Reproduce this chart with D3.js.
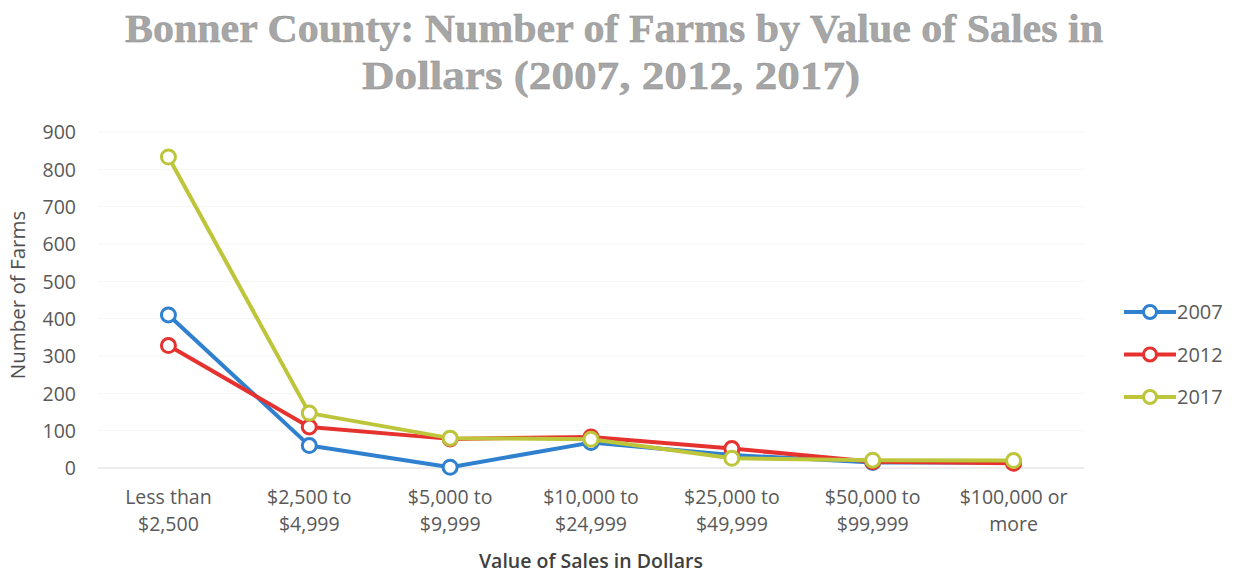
<!DOCTYPE html>
<html><head><meta charset="utf-8">
<script src="https://cdn.jsdelivr.net/npm/d3@7"></script>
<style>
body{margin:0;background:#fff;}
svg{display:block;}
text{font-family:"Open Sans",sans-serif;}
</style></head>
<body><svg id="c" width="1236" height="573"></svg>
<script>
const categories = [["Less than","$2,500"],["$2,500 to","$4,999"],["$5,000 to","$9,999"],["$10,000 to","$24,999"],["$25,000 to","$49,999"],["$50,000 to","$99,999"],["$100,000 or","more"]];
const years = ["2007","2012","2017"];
const values2007 = [410, 60, 2, 68, 35, 15, 15];
const values2012 = [328, 110, 78, 83, 52, 17, 13];
const values2017 = [833, 147, 80, 77, 26, 21, 20];
const yTicks = [0,100,200,300,400,500,600,700,800,900];
const colors = ["#2f80cf","#e6322f","#bdc53b"];

(function(){
const series = [values2007, values2012, values2017].map((v,i)=>({name:years[i], values:v, color:colors[i]}));
const svg = d3.select("#c");
const pL = 98, pR = 1084, pT = 132, pB = 468;

const x = d3.scaleBand().domain(d3.range(categories.length)).range([pL,pR]);
const y = d3.scaleLinear().domain([0,900]).range([pB,pT]);

// gridlines
svg.append("g").selectAll("line").data(yTicks).join("line")
  .attr("x1",pL).attr("x2",pR)
  .attr("y1",d=>y(d)).attr("y2",d=>y(d))
  .attr("stroke",d=>d===0?"#d9d9d9":"#f5f5f5").attr("stroke-width",1);

// y axis
const yAxis = d3.axisLeft(y).tickValues(yTicks).tickSize(0).tickPadding(0);
const yg = svg.append("g").attr("transform",`translate(76,0)`).call(yAxis);
yg.select(".domain").remove();
yg.selectAll("text").attr("fill","#595959").style("font-size","19.5px").style("font-family","'Open Sans',sans-serif").attr("dy","0.35em");

// x axis labels
const xg = svg.append("g");
categories.forEach((c,i)=>{
  const cx = x(i)+x.bandwidth()/2;
  const t = xg.append("text").attr("x",cx).attr("y",504)
    .attr("text-anchor","middle").attr("fill","#595959").style("font-size","19.5px");
  t.append("tspan").attr("x",cx).attr("dy",0).text(c[0]);
  t.append("tspan").attr("x",cx).attr("dy",27).text(c[1]);
});

// axis titles
svg.append("text").attr("x",591).attr("y",568).attr("text-anchor","middle")
  .attr("fill","#404040").style("font-size","19.5px").style("font-weight","600").text("Value of Sales in Dollars");
svg.append("text").attr("transform","translate(25,295) rotate(-90)").attr("text-anchor","middle")
  .attr("fill","#505050").style("font-size","20.5px").style("font-weight","500").text("Number of Farms");

// title
const title = svg.append("g");
title.append("text").attr("x",614).attr("y",42).attr("text-anchor","middle")
  .attr("fill","#a6a6a6").attr("stroke","#8c8c8c").attr("stroke-width",0.4)
  .style("font-family","'Liberation Serif',serif").style("font-size","40px").style("font-weight","bold")
  .attr("textLength",978).attr("lengthAdjust","spacingAndGlyphs")
  .text("Bonner County: Number of Farms by Value of Sales in");
title.append("text").attr("x",611).attr("y",89).attr("text-anchor","middle")
  .attr("fill","#a6a6a6").attr("stroke","#8c8c8c").attr("stroke-width",0.4)
  .style("font-family","'Liberation Serif',serif").style("font-size","40px").style("font-weight","bold")
  .attr("textLength",498).attr("lengthAdjust","spacingAndGlyphs")
  .text("Dollars (2007, 2012, 2017)");

// lines
const line = d3.line().x((d,i)=>x(i)+x.bandwidth()/2).y(d=>y(d));
series.forEach(s=>{
  const g = svg.append("g");
  g.append("path").datum(s.values).attr("d",line).attr("fill","none")
    .attr("stroke",s.color).attr("stroke-width",4).attr("stroke-linejoin","round");
  g.selectAll("circle").data(s.values).join("circle")
    .attr("cx",(d,i)=>x(i)+x.bandwidth()/2).attr("cy",d=>y(d)).attr("r",7)
    .attr("fill","#fff").attr("stroke",s.color).attr("stroke-width",3);
});

// legend
const lg = svg.append("g");
series.forEach((s,i)=>{
  const yy = 312 + i*42.5;
  lg.append("line").attr("x1",1124).attr("x2",1176).attr("y1",yy).attr("y2",yy)
    .attr("stroke",s.color).attr("stroke-width",4);
  lg.append("circle").attr("cx",1150).attr("cy",yy).attr("r",6.5)
    .attr("fill","#fff").attr("stroke",s.color).attr("stroke-width",3);
  lg.append("text").attr("x",1177).attr("y",yy).attr("dy","0.35em")
    .attr("fill","#595959").style("font-size","20px").text(s.name);
});
})();
</script></body></html>
